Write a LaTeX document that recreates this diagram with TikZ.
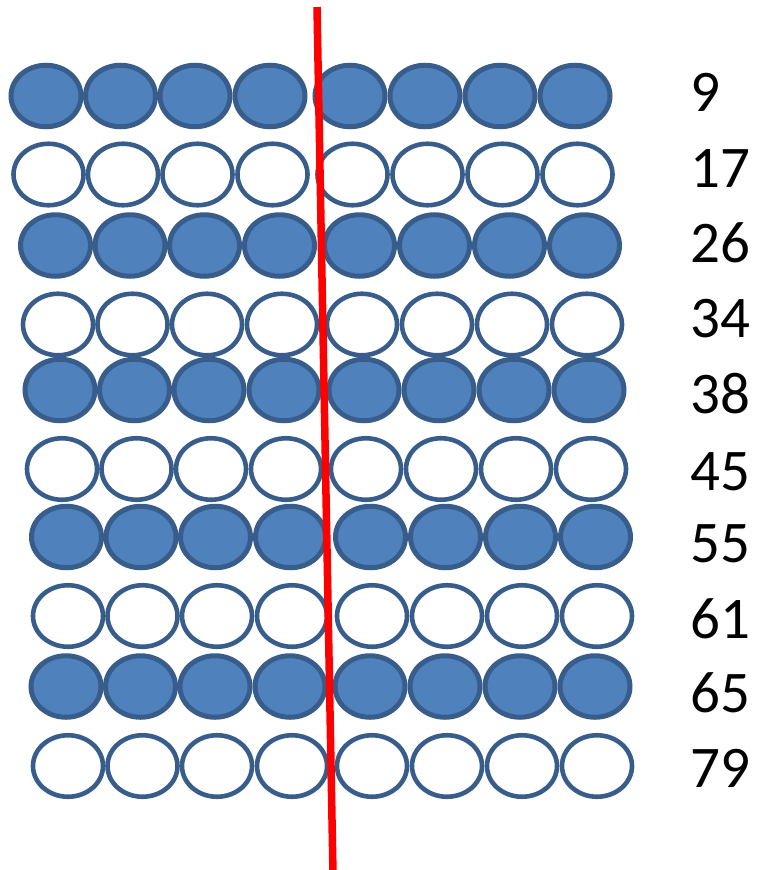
\documentclass[tikz,border=0pt]{standalone}
\usepackage{fontspec}
\setmainfont{Carlito}
\usetikzlibrary{shapes.geometric}
\definecolor{BeadBlue}{HTML}{4F81BD}
\definecolor{BeadEdge}{HTML}{385D8A}
\definecolor{CutRed}{HTML}{FF0000}

\begin{document}
\begin{tikzpicture}[x=1pt,y=-1pt,
  bead/.style={ellipse,draw=BeadEdge,line width=5pt,inner sep=0pt,
    minimum width=70pt,minimum height=61.5pt},
  full/.style={bead,fill=BeadBlue},
  hollow/.style={bead,fill=white,line width=4.6pt},
  count/.style={anchor=base west,inner sep=0pt,
    font=\fontsize{59}{70}\selectfont},
  cut/.style={draw=CutRed,line width=7.5pt}
]
\useasboundingbox (0,0) rectangle (759,870);
% rows of beads: row / left x / centre y / look
\foreach \r/\sx/\y/\s in {1/46/96/full,2/48.5/174.5/hollow,3/55.5/245.5/full,
    4/58/324.5/hollow,5/60/390/full,6/62/469/hollow,7/66.5/537/full,
    8/68/616/hollow,9/66/686.5/full,10/68/766/hollow}{
  \foreach \c/\dx in {1/0,2/74.5,3/149,4/224,5/304,6/379,7/454,8/529}{
    \node[\s] (bead-\r-\c) at (\sx+\dx,\y) {};
  }
}
% counts on the right
\node[count] (n9) at (690,111) {9};
\node[count] (n17) at (690,187) {17};
\node[count] (n26) at (690,262) {26};
\node[count] (n34) at (690,337) {34};
\node[count] (n38) at (690,413) {38};
\node[count] (n45) at (690,490) {45};
\node[count] (n55) at (690,562) {55};
\node[count] (n61) at (690,638) {61};
\node[count] (n65) at (690,712) {65};
\node[count] (n79) at (690,787) {79};
% the red cut
\coordinate (cut-top) at (317,7);
\coordinate (cut-bottom) at (333,874);
\draw[cut] (cut-top) -- (cut-bottom);
\end{tikzpicture}
\end{document}
